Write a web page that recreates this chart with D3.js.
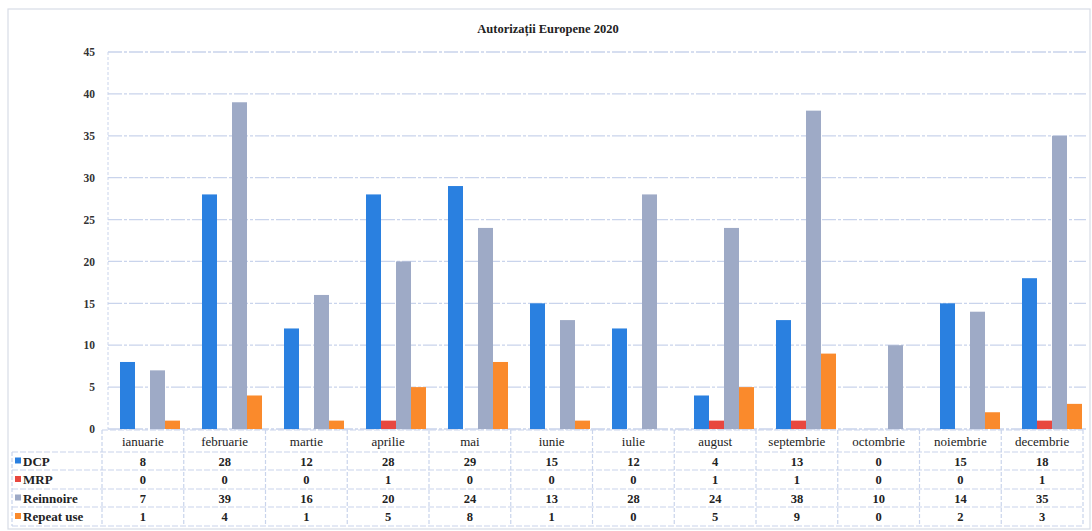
<!DOCTYPE html>
<html><head><meta charset="utf-8">
<script src="https://cdn.jsdelivr.net/npm/d3@7/dist/d3.min.js"></script>
<style>body{margin:0;background:#fff;}svg{display:block;} text{font-family:"Liberation Serif","DejaVu Serif",serif;}</style>
</head><body><svg id="c" width="1092" height="531"></svg>
<script>
const title = "Autorizații Europene 2020";
const months = ["ianuarie","februarie","martie","aprilie","mai","iunie","iulie","august","septembrie","octombrie","noiembrie","decembrie"];
const seriesNames = ["DCP","MRP","Reinnoire","Repeat use"];
const seriesColors = ["#2a80e0","#e8473f","#9eaac6","#fa8a2c"];
const dcp = [8,28,12,28,29,15,12,4,13,0,15,18];
const mrp = [0,0,0,1,0,0,0,1,1,0,0,1];
const reinnoire = [7,39,16,20,24,13,28,24,38,10,14,35];
const repeatUse = [1,4,1,5,8,1,0,5,9,0,2,3];
const yTicks = [0,5,10,15,20,25,30,35,40,45];
const values = [dcp, mrp, reinnoire, repeatUse];

const FONT = "Liberation Serif, DejaVu Serif, serif";
const svg = d3.select("#c").attr("font-family",FONT);
const pLeft = 102, pRight = 1083, pTop = 52, pBottom = 429;
const gridColor = "#c9d4ec";

svg.append("rect").attr("x",8).attr("y",9).attr("width",1082).attr("height",520)
  .attr("fill","#fff").attr("stroke","#d8dce6").attr("stroke-width",1.2);

svg.append("text").attr("x",548).attr("y",33).attr("text-anchor","middle")
  .attr("font-size",12.5).attr("font-weight","bold").attr("fill","#222").text(title);

// table columns
const x = d3.scaleBand().domain(months).range([pLeft,pRight]).paddingInner(0).paddingOuter(0);
// bar bands (the plotted groups)
const xb = d3.scaleBand().domain(months).range([109,1093]).paddingInner(0).paddingOuter(0);
const xs = d3.scaleBand().domain(seriesNames).range([0,xb.bandwidth()]).paddingOuter(0.733).paddingInner(0);
const y = d3.scaleLinear().domain([0,45]).range([pBottom,pTop]);

svg.append("g").selectAll("line").data(yTicks).join("line")
  .attr("x1",pLeft+6).attr("x2",pRight+3).attr("y1",d=>y(d)).attr("y2",d=>y(d))
  .attr("stroke",gridColor).attr("stroke-width",1.3).attr("stroke-dasharray","14,2,3,2");

const yAxis = d3.axisLeft(y).tickValues(yTicks).tickSize(0).tickPadding(0);
const ya = svg.append("g").attr("transform",`translate(${pLeft-7},0)`).call(yAxis);
ya.attr("font-family",FONT);
ya.select(".domain").remove();
ya.selectAll("text").attr("font-size",11.5).attr("font-family",FONT).attr("font-weight","bold").attr("fill","#333");
svg.append("line").attr("x1",pLeft+6).attr("x2",pLeft+6).attr("y1",pTop).attr("y2",pBottom)
  .attr("stroke",gridColor).attr("stroke-dasharray","3,2");

seriesNames.forEach((s,si)=>{
  svg.append("g").selectAll("rect").data(months).join("rect")
    .attr("x",m=>xb(m)+xs(s))
    .attr("width",xs.bandwidth())
    .attr("y",(m,i)=>y(values[si][i]))
    .attr("height",(m,i)=>pBottom-y(values[si][i]))
    .attr("fill",seriesColors[si]);
});

const rowY = [430,452,470,489,507,526];
const tbl = svg.append("g");
rowY.forEach((ry,i)=>{
  tbl.append("line").attr("x1", i===0?pLeft:12).attr("x2",pRight).attr("y1",ry).attr("y2",ry)
    .attr("stroke",gridColor).attr("stroke-width",1.2).attr("stroke-dasharray","6,2");
});
months.forEach(m=>{
  tbl.append("line").attr("x1",x(m)).attr("x2",x(m)).attr("y1",rowY[0]).attr("y2",rowY[5])
    .attr("stroke",gridColor).attr("stroke-width",1.2).attr("stroke-dasharray","4,2");
});
tbl.append("line").attr("x1",pRight).attr("x2",pRight).attr("y1",rowY[0]).attr("y2",rowY[5])
  .attr("stroke",gridColor).attr("stroke-width",1.2).attr("stroke-dasharray","4,2");
tbl.append("line").attr("x1",12).attr("x2",12).attr("y1",rowY[1]).attr("y2",rowY[5])
  .attr("stroke",gridColor).attr("stroke-width",1.2).attr("stroke-dasharray","4,2");

tbl.append("g").selectAll("text").data(months).join("text")
  .attr("x",m=>x(m)+x.bandwidth()/2).attr("y",446).attr("text-anchor","middle")
  .attr("font-size",13).attr("fill","#222").text(m=>m);

seriesNames.forEach((s,si)=>{
  const cy = (rowY[si+1]+rowY[si+2])/2;
  tbl.append("rect").attr("x",15).attr("y",cy-3.5).attr("width",6).attr("height",6).attr("fill",seriesColors[si]);
  tbl.append("text").attr("x",23).attr("y",cy+4.5).attr("font-size",13).attr("font-weight","bold").attr("fill","#222").text(s);
  tbl.append("g").selectAll("text").data(months).join("text")
    .attr("x",m=>x(m)+x.bandwidth()/2).attr("y",cy+4.5).attr("text-anchor","middle")
    .attr("font-size",12.5).attr("font-weight","bold").attr("fill","#222")
    .text((m,i)=>values[si][i]);
});
</script></body></html>
